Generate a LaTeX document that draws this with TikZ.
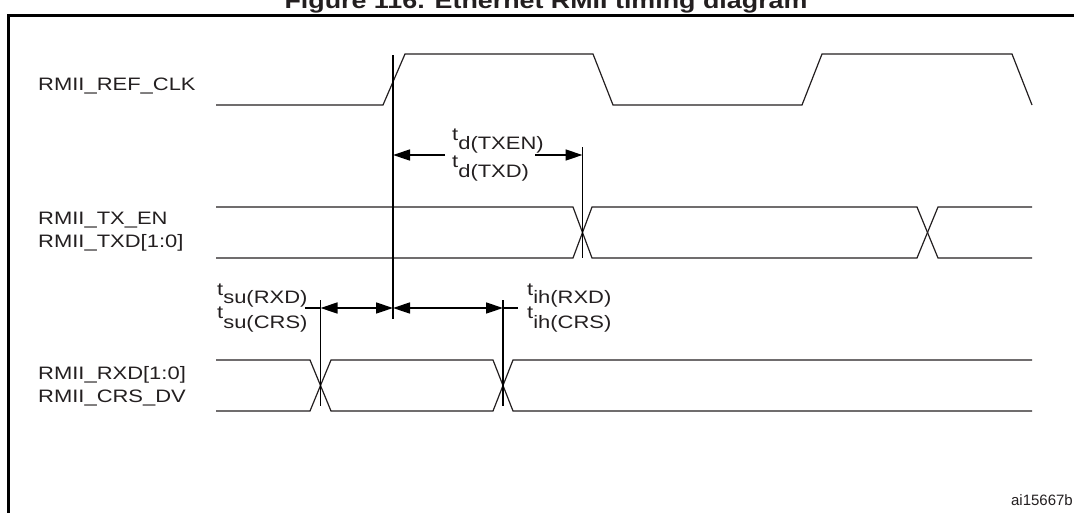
\documentclass[tikz,border=0pt]{standalone}
\usepackage{fontspec}
\setmainfont{Liberation Sans}[FakeStretch=1.22]
\newfontfamily\idfont{Liberation Sans}
\usetikzlibrary{arrows.meta}
\definecolor{ink}{HTML}{231F20}
\begin{document}
\begin{tikzpicture}[x=1pt,y=-1pt,
  sig/.style={line width=1.2pt, color=ink, line join=miter},
  tline/.style={line width=1.6pt, color=black},
  dimline/.style={line width=1.4pt, color=black,
    {Triangle[length=17pt,width=11pt]}-{Triangle[length=17pt,width=11pt]}},
  oneway/.style={line width=1.4pt, color=black, -{Triangle[length=17pt,width=11pt]}},
  stub/.style={line width=1.4pt, color=black},
  lbl/.style={anchor=base west, inner sep=0pt, text=ink, font=\fontsize{18}{20}\selectfont},
  frame/.style={line width=2.2pt, color=black}]
\useasboundingbox (0,0) rectangle (1074,512);
\begin{scope}
\clip (0,0) rectangle (1074,512);
\draw[frame] (8.5,15.5) rectangle (1090,540);
% title
\node[anchor=base, inner sep=0pt, text=ink, font=\bfseries\fontsize{22}{24}\selectfont] (title) at (546,8) {Figure 116. Ethernet RMII timing diagram};
\end{scope}
% signal names
\node[lbl] (lclk) at (38,90.5) {RMII\_REF\_CLK};
\node[lbl] (ltxen) at (38,224) {RMII\_TX\_EN};
\node[lbl] (ltxd) at (38,247) {RMII\_TXD[1:0]};
\node[lbl] (lrxd) at (38,379) {RMII\_RXD[1:0]};
\node[lbl] (lcrs) at (38,402) {RMII\_CRS\_DV};
% waveforms
\draw[sig] (216,105) -- (383,105) -- (405,54) -- (593,54) -- (613,105) -- (802,105) -- (822,54) -- (1012,54) -- (1032,105);
\draw[sig] (216,207) -- (573,207) -- (592,258) -- (917,258) -- (938,207) -- (1032,207);
\draw[sig] (216,258) -- (573,258) -- (592,207) -- (917,207) -- (938,258) -- (1032,258);
\draw[sig] (216,360) -- (310,360) -- (331,411) -- (493,411) -- (513,360) -- (1032,360);
\draw[sig] (216,411) -- (310,411) -- (331,360) -- (493,360) -- (513,411) -- (1032,411);
% timing reference lines
\coordinate (v0t) at (393,55);   \coordinate (v0b) at (393,319);
\coordinate (v1t) at (582.5,147); \coordinate (v1b) at (582.5,258);
\coordinate (v2t) at (320.5,300); \coordinate (v2b) at (320.5,406);
\coordinate (v3t) at (503,300);  \coordinate (v3b) at (503,406);
\draw[tline] (v0t) -- (v0b);
\draw[tline] (v1t) -- (v1b);
\draw[tline] (v2t) -- (v2b);
\draw[tline] (v3t) -- (v3b);
% td dimension
\coordinate (tdA) at (393,155);   \coordinate (tdG1) at (445,155);
\coordinate (tdG2) at (535,155);  \coordinate (tdB) at (582.5,155);
\draw[oneway] (tdG1) -- (tdA);
\draw[oneway] (tdG2) -- (tdB);
% tsu / tih dimension
\coordinate (s0) at (305,308); \coordinate (s1) at (320.5,308);
\coordinate (s2) at (393,308); \coordinate (s3) at (503,308);
\coordinate (s4) at (518,308);
\draw[stub] (s0) -- (s1);
\draw[dimline] (s1) -- (s2);
\draw[dimline] (s2) -- (s3);
\draw[stub] (s3) -- (s4);
% timing labels
\node[lbl] (tdtxen) at (452,140) {t\raisebox{-9pt}{d(TXEN)}};
\node[lbl] (tdtxd) at (452,167) {t\raisebox{-10pt}{d(TXD)}};
\node[lbl] (tsurxd) at (217,295) {t\raisebox{-8pt}{su(RXD)}};
\node[lbl] (tsucrs) at (217,318) {t\raisebox{-10pt}{su(CRS)}};
\node[lbl] (tihrxd) at (527,295) {t\raisebox{-8pt}{ih(RXD)}};
\node[lbl] (tihcrs) at (527,318) {t\raisebox{-10pt}{ih(CRS)}};
% figure id
\node[anchor=base east, inner sep=0pt, text=ink, font=\idfont\fontsize{15}{17}\selectfont] (figid) at (1073,505) {ai15667b};
\end{tikzpicture}
\end{document}
